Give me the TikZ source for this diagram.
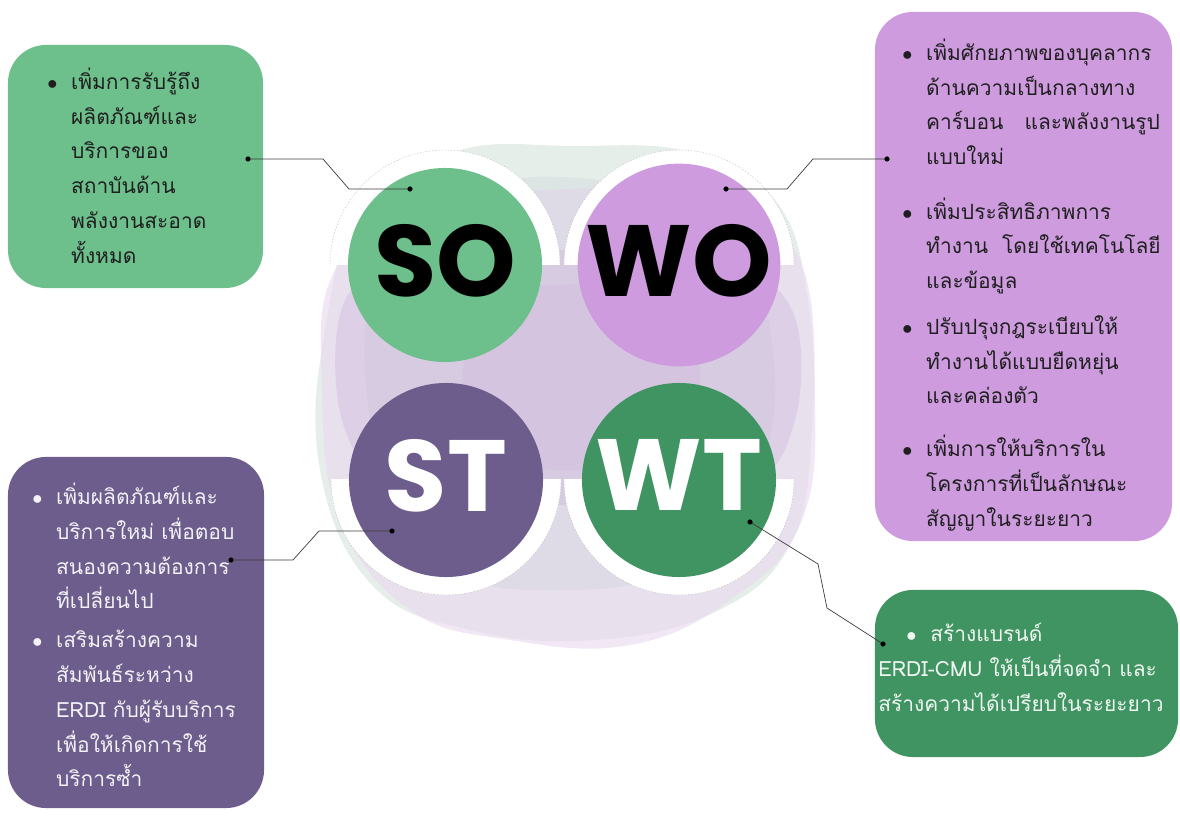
\documentclass[tikz,border=0pt]{standalone}
\usepackage{fontspec}
\newfontfamily\thaifont[Script=Thai]{Loma}
\newfontfamily\swotfont{Poppins}
\usetikzlibrary{positioning}

\definecolor{soGreen}{RGB}{109,191,139}
\definecolor{woPurple}{RGB}{205,155,222}
\definecolor{stPurple}{RGB}{108,93,140}
\definecolor{wtGreen}{RGB}{63,148,97}
\definecolor{blobMint}{RGB}{222,234,228}
\definecolor{blobLilac}{RGB}{234,218,240}
\definecolor{bandLilac}{RGB}{208,186,222}
\definecolor{blobGray}{RGB}{200,206,214}
\definecolor{linkGray}{RGB}{60,60,60}

\newcommand{\bul}{\makebox[17pt][l]{$\bullet$}}
\newcommand{\ind}{\hspace*{17pt}}

\begin{document}
\begin{tikzpicture}
        [
        x=0.025cm, y=-0.025cm,
        box/.style={rectangle, rounded corners=0.95cm, inner sep=0pt},
        swot/.style={circle, minimum size=4.85cm, inner sep=0pt,
          font=\swotfont\bfseries\fontsize{72}{72}\selectfont},
        txt/.style={anchor=west, align=left, inner sep=0pt,
          font=\thaifont\fontsize{14.9}{24.7}\selectfont},
        link/.style={draw=linkGray, line width=0.5pt}
        ]

        \useasboundingbox (0,0) rectangle (1180,820);

        % Background blobs
        \fill[blobMint, opacity=0.8] plot[smooth cycle, tension=0.7] coordinates
          {(325,330) (365,200) (460,150) (570,146) (690,152) (775,200) (808,300)
           (812,430) (790,545) (715,612) (595,640) (470,630) (372,585) (320,470)};
        \fill[blobLilac, opacity=0.65] plot[smooth cycle, tension=0.7] coordinates
          {(335,270) (420,205) (545,190) (700,195) (795,250) (815,400) (800,525)
           (730,600) (630,645) (510,640) (410,610) (340,520) (322,390)};
        \fill[blobGray, opacity=0.3] plot[smooth cycle, tension=0.8] coordinates
          {(380,250) (470,190) (600,180) (720,215) (770,330) (760,470) (690,560)
           (560,590) (440,560) (375,450)};
        \fill[bandLilac, opacity=0.45] plot[smooth cycle, tension=0.6] coordinates
          {(345,300) (420,262) (560,250) (720,262) (792,310) (795,420) (740,490)
           (560,505) (400,490) (342,420)};
        \fill[bandLilac, opacity=0.4] plot[smooth cycle, tension=0.7] coordinates
          {(480,310) (560,285) (650,300) (700,370) (660,450) (560,470) (470,440)};

        % White half rings
        \begin{scope}
          \clip (300,130) rectangle (820,265);
          \fill[white] (445,265) circle (115);
          \fill[white] (679,265) circle (115);
          \draw[gray!50, line width=0.3pt, dash pattern=on 1pt off 1.2pt] (445,265) circle (115);
          \draw[gray!50, line width=0.3pt, dash pattern=on 1pt off 1.2pt] (679,265) circle (115);
        \end{scope}
        \begin{scope}
          \clip (300,480) rectangle (820,620);
          \fill[white] (446,480) circle (115);
          \fill[white] (679,480) circle (115);
          \draw[gray!50, line width=0.3pt, dash pattern=on 1pt off 1.2pt] (446,480) circle (115);
          \draw[gray!50, line width=0.3pt, dash pattern=on 1pt off 1.2pt] (679,480) circle (115);
        \end{scope}

        % Circles
        \node[swot, fill=soGreen, text=black] (so) at (445,265) {\raisebox{7pt}{SO}};
        \node[swot, fill=woPurple, text=black] (wo) at (679,265) {\raisebox{7pt}{WO}};
        \node[swot, fill=stPurple, text=white] (st) at (446,480) {\raisebox{7pt}{ST}};
        \node[swot, fill=wtGreen, text=white] (wt) at (679,480) {\raisebox{7pt}{WT}};

        % Boxes
        \node[box, fill=soGreen, minimum width=6.375cm, minimum height=6.075cm] (soBox) at (135.5,166.5) {};
        \node[box, fill=woPurple, minimum width=7.425cm, minimum height=13.225cm] (woBox) at (1023.5,276.5) {};
        \node[box, fill=stPurple, minimum width=6.4cm, minimum height=8.775cm] (stBox) at (136,632.5) {};
        \node[box, fill=wtGreen, minimum width=7.575cm, minimum height=4.175cm] (wtBox) at (1026.5,673.5) {};

        % Texts
        \node[txt, text=black!88] (soText) at (47,165.5)
          {\bul เพิ่มการรับรู้ถึง\\
           \ind ผลิตภัณฑ์และ\\
           \ind บริการของ\\
           \ind สถาบันด้าน\\
           \ind พลังงานสะอาด\\
           \ind ทั้งหมด};
        \node[txt, text=black!88] (woText) at (902,285)
          {\bul เพิ่มศักยภาพของบุคลากร\\
           \ind ด้านความเป็นกลางทาง\\
           \ind คาร์บอน \ \ และพลังงานรูป\\
           \ind แบบใหม่\\[14pt]
           \bul เพิ่มประสิทธิภาพการ\\
           \ind ทำงาน \ โดยใช้เทคโนโลยี\\
           \ind และข้อมูล\\[8pt]
           \bul ปรับปรุงกฎระเบียบให้\\
           \ind ทำงานได้แบบยืดหยุ่น\\
           \ind และคล่องตัว\\[13pt]
           \bul เพิ่มการให้บริการใน\\
           \ind โครงการที่เป็นลักษณะ\\
           \ind สัญญาในระยะยาว};
        \node[txt, text=white!92!stPurple] (stText) at (32,635)
          {\bul เพิ่มผลิตภัณฑ์และ\\
           \ind บริการใหม่ เพื่อตอบ\\
           \ind สนองความต้องการ\\
           \ind ที่เปลี่ยนไป\\[3pt]
           \bul เสริมสร้างความ\\
           \ind สัมพันธ์ระหว่าง\\
           \ind ERDI กับผู้รับบริการ\\
           \ind เพื่อให้เกิดการใช้\\
           \ind บริการซ้ำ};
        \node[txt, text=white!92!wtGreen] (wtText) at (878,667.5)
          {\hspace*{20pt}\bul สร้างแบรนด์\\
           ERDI-CMU ให้เป็นที่จดจำ และ\\
           สร้างความได้เปรียบในระยะยาว};

        % Edges
        \coordinate (soIn) at (410,189);
        \coordinate (soOut) at (248,159);
        \coordinate (woIn) at (726,189);
        \coordinate (woOut) at (887,159);
        \coordinate (stIn) at (392,531);
        \coordinate (stOut) at (231,560);
        \coordinate (wtIn) at (750,522);
        \coordinate (wtOut) at (883,644);

        \draw[link] (soOut) -- ++(75,0) -- ++(26,30) -- (soIn);
        \draw[link] (woIn) -- ++(61,0) -- ++(26,-30) -- (woOut);
        \draw[link] (stIn) -- ++(-73,0) -- ++(-26,29) -- (stOut);
        \draw[link] (wtIn) -- ++(68,42) -- ++(9,44) -- (wtOut);

        \foreach \d in {soIn, soOut, woIn, woOut, stIn, stOut, wtIn, wtOut}
          \fill[black] (\d) circle (2.6);

    \end{tikzpicture}
\end{document}
